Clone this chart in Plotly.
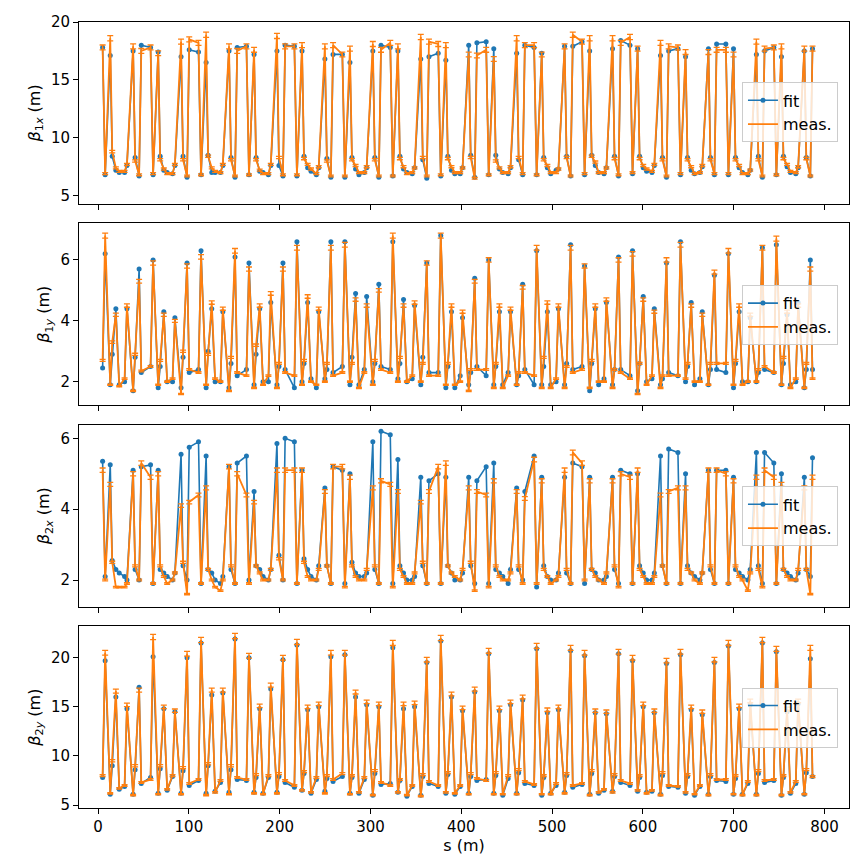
import plotly.graph_objects as go
from plotly.subplots import make_subplots

# monitor positions along the ring (m)
s = [
    5.0, 7.8, 13.4, 15.6, 19.6, 23.3, 29.2, 31.8,
    38.6, 40.8, 45.2, 47.6, 57.8, 60.6, 66.2, 68.4, 72.4, 76.1, 82.0, 84.6,
    91.4, 93.6, 98.0, 100.4, 110.6, 113.4, 119.0, 121.2, 125.2, 128.9, 134.8, 137.4,
    144.2, 146.4, 150.8, 153.2, 163.4, 166.2, 171.8, 174.0, 178.0, 181.7, 187.6, 190.2,
    197.0, 199.2, 203.6, 206.0, 216.2, 219.0, 224.6, 226.8, 230.8, 234.5, 240.4, 243.0,
    249.8, 252.0, 256.4, 258.8, 269.0, 271.8, 277.4, 279.6, 283.6, 287.3, 293.2, 295.8,
    302.6, 304.8, 309.2, 311.6, 321.8, 324.6, 330.2, 332.4, 336.4, 340.1, 346.0, 348.6,
    355.4, 357.6, 362.0, 364.4, 374.6, 377.4, 383.0, 385.2, 389.2, 392.9, 398.8, 401.4,
    408.2, 410.4, 414.8, 417.2, 427.4, 430.2, 435.8, 438.0, 442.0, 445.7, 451.6, 454.2,
    461.0, 463.2, 467.6, 470.0, 480.2, 483.0, 488.6, 490.8, 494.8, 498.5, 504.4, 507.0,
    513.8, 516.0, 520.4, 522.8, 533.0, 535.8, 541.4, 543.6, 547.6, 551.3, 557.2, 559.8,
    566.6, 568.8, 573.2, 575.6, 585.8, 588.6, 594.2, 596.4, 600.4, 604.1, 610.0, 612.6,
    619.4, 621.6, 626.0, 628.4, 638.6, 641.4, 647.0, 649.2, 653.2, 656.9, 662.8, 665.4,
    672.2, 674.4, 678.8, 681.2, 691.4, 694.2, 699.8, 702.0, 706.0, 709.7, 715.6, 718.2,
    725.0, 727.2, 731.6, 734.0, 744.2, 747.0, 752.6, 754.8, 758.8, 762.5, 768.4, 771.0,
    777.8, 780.0, 784.4, 786.8,
]

# ---- beta_1x ----
b1x_meas = [
    17.8, 6.9, 18.6, 8.8, 7.4, 7.1, 7.1, 7.7,
    17.9, 8.0, 6.8, 17.5, 17.8, 6.9, 17.3, 8.1, 7.3, 6.9, 6.9, 7.7,
    18.3, 8.1, 6.7, 18.5, 18.2, 6.8, 18.9, 8.4, 7.4, 7.1, 7.0, 7.7,
    17.9, 8.1, 6.7, 17.5, 17.9, 6.8, 17.6, 8.1, 7.2, 6.9, 6.9, 7.7,
    18.8, 8.3, 6.8, 17.9, 17.9, 6.8, 18.0, 8.2, 7.7, 7.3, 6.9, 7.5,
    17.9, 8.0, 6.7, 18.0, 17.2, 6.7, 17.7, 8.1, 7.6, 7.0, 7.0, 7.5,
    18.1, 8.1, 6.7, 17.6, 18.2, 6.7, 17.9, 8.2, 7.5, 6.9, 7.0, 7.4,
    18.7, 8.3, 6.7, 18.3, 18.1, 6.8, 18.0, 8.2, 7.5, 7.0, 7.0, 7.4,
    17.2, 8.3, 6.5, 17.1, 17.6, 6.8, 16.8, 8.0, 7.4, 7.0, 7.0, 7.5,
    18.6, 8.3, 6.9, 18.0, 18.0, 6.8, 17.2, 8.1, 7.6, 7.0, 7.0, 7.3,
    17.9, 8.3, 6.7, 18.9, 18.3, 6.9, 18.6, 8.4, 7.9, 7.0, 7.0, 7.4,
    18.6, 8.2, 6.8, 18.2, 18.7, 7.0, 17.7, 8.2, 7.6, 7.3, 7.1, 7.7,
    18.2, 8.1, 6.7, 17.9, 17.8, 6.9, 17.4, 8.1, 7.5, 6.9, 7.0, 7.6,
    17.4, 8.1, 6.9, 17.6, 17.6, 6.9, 17.2, 8.1, 7.6, 6.9, 6.9, 7.2,
    18.3, 8.1, 6.7, 17.7, 17.8, 6.8, 17.9, 8.2, 7.7, 7.1, 7.0, 7.5,
    17.7, 8.2, 6.7, 17.7,
]
b1x_fit = [
    17.8, 6.8, 17.1, 8.4, 7.2, 7.0, 7.0, 7.6,
    17.5, 8.3, 6.7, 18.0, 17.8, 6.8, 17.4, 8.4, 7.2, 7.0, 6.9, 7.6,
    17.0, 8.4, 6.6, 17.6, 17.4, 6.8, 16.5, 8.5, 7.0, 7.0, 7.0, 7.6,
    17.5, 8.3, 6.6, 17.8, 17.9, 6.8, 17.2, 8.3, 7.1, 7.0, 6.8, 7.6,
    17.5, 7.6, 6.7, 18.0, 17.9, 6.7, 17.5, 8.4, 7.4, 7.1, 6.8, 7.4,
    16.8, 8.2, 6.6, 17.2, 17.2, 6.6, 16.5, 8.3, 7.3, 6.8, 7.0, 7.4,
    17.5, 8.3, 6.6, 18.0, 17.8, 6.7, 17.5, 8.4, 7.3, 7.0, 6.9, 7.4,
    16.8, 8.1, 6.5, 17.0, 17.3, 6.7, 16.7, 8.4, 7.2, 6.9, 6.9, 7.4,
    18.0, 8.5, 6.6, 18.2, 18.3, 6.8, 17.7, 8.5, 7.3, 7.0, 6.9, 7.4,
    17.3, 8.1, 6.8, 18.0, 17.8, 6.8, 17.3, 8.3, 7.4, 6.9, 7.2, 7.3,
    17.9, 8.4, 6.7, 17.9, 18.3, 6.8, 17.5, 8.5, 7.6, 7.0, 6.9, 7.4,
    17.7, 8.4, 6.7, 18.4, 18.0, 6.9, 17.7, 8.4, 7.4, 7.1, 7.0, 7.6,
    17.1, 8.3, 6.6, 17.5, 17.7, 6.8, 17.0, 8.3, 7.2, 6.9, 7.0, 7.5,
    17.7, 8.3, 6.8, 18.1, 18.1, 6.8, 17.7, 8.3, 7.4, 7.0, 6.8, 7.2,
    17.2, 8.4, 6.6, 17.5, 17.8, 6.8, 17.0, 8.4, 7.5, 7.0, 6.9, 7.4,
    17.5, 8.3, 6.7, 17.7,
]

# ---- beta_1y ----
b1y_meas = [
    2.7, 6.8, 1.9, 3.3, 4.2, 1.85, 2.1, 4.5,
    1.7, 2.9, 5.3, 2.35, 2.5, 5.9, 1.9, 2.7, 4.2, 2.0, 2.1, 4.0,
    1.6, 3.0, 5.8, 2.4, 2.3, 6.1, 1.9, 2.9, 4.6, 2.1, 2.0, 4.4,
    1.7, 2.8, 6.3, 2.3, 2.2, 5.7, 1.8, 3.2, 4.5, 1.9, 2.2, 4.9,
    1.8, 2.6, 5.7, 2.3, 2.2, 6.4, 1.9, 2.7, 4.8, 2.0, 1.9, 4.4,
    2.0, 2.6, 6.4, 2.2, 2.3, 6.5, 2.0, 2.6, 4.7, 1.8, 2.3, 4.5,
    1.9, 2.7, 5.0, 2.4, 2.3, 6.8, 2.0, 2.8, 4.5, 2.0, 2.2, 4.6,
    2.0, 2.6, 5.9, 2.2, 2.2, 6.8, 1.9, 2.6, 4.5, 1.9, 2.0, 4.3,
    1.7, 2.4, 5.3, 2.4, 2.4, 6.0, 1.8, 2.6, 4.5, 1.8, 2.2, 4.4,
    1.9, 2.3, 5.1, 2.3, 2.2, 6.4, 1.8, 2.8, 4.6, 1.8, 2.1, 4.5,
    1.8, 2.5, 6.4, 2.3, 2.4, 5.8, 1.8, 2.7, 4.5, 2.0, 2.0, 4.7,
    1.8, 2.4, 6.0, 2.3, 2.1, 6.2, 1.6, 2.6, 4.7, 1.9, 2.2, 4.3,
    1.8, 2.2, 6.0, 2.2, 2.2, 6.5, 2.1, 2.6, 4.5, 2.0, 2.0, 4.2,
    1.9, 2.6, 5.6, 2.6, 2.6, 6.3, 1.9, 2.7, 4.5, 1.9, 2.0, 4.2,
    2.0, 2.4, 6.4, 2.5, 2.3, 6.7, 1.9, 2.8, 4.3, 1.8, 2.1, 4.5,
    1.8, 2.6, 5.7, 2.1,
]
b1y_fit = [
    2.45, 6.2, 1.9, 2.9, 4.4, 1.9, 2.0, 4.4,
    1.7, 2.8, 5.7, 2.3, 2.5, 6.0, 1.8, 2.5, 4.3, 2.0, 2.0, 4.1,
    1.8, 2.8, 5.9, 2.3, 2.4, 6.3, 1.8, 3.0, 4.4, 2.0, 2.0, 4.3,
    1.8, 2.6, 6.1, 2.2, 2.4, 5.9, 1.9, 2.9, 4.4, 2.0, 2.0, 4.6,
    1.9, 2.5, 5.9, 2.4, 1.8, 6.6, 2.0, 2.6, 4.6, 2.1, 1.8, 4.3,
    2.1, 2.4, 6.6, 2.3, 2.5, 6.6, 1.9, 2.8, 4.9, 1.9, 2.4, 4.8,
    2.0, 2.6, 5.2, 2.5, 2.4, 6.6, 2.1, 2.6, 4.7, 2.0, 2.1, 4.5,
    1.9, 2.8, 5.9, 2.3, 2.3, 6.8, 1.8, 2.5, 4.3, 1.8, 2.2, 4.1,
    1.9, 2.3, 5.4, 2.5, 2.2, 6.0, 1.9, 2.5, 4.3, 1.9, 2.3, 4.3,
    1.9, 2.2, 5.2, 2.4, 1.9, 6.3, 1.9, 2.5, 4.3, 1.9, 2.0, 4.4,
    1.9, 2.6, 6.5, 2.4, 2.5, 5.8, 1.7, 2.6, 4.4, 1.9, 2.1, 4.6,
    1.9, 2.4, 6.1, 2.4, 2.2, 6.3, 1.7, 2.6, 4.8, 2.0, 2.1, 4.4,
    1.9, 2.1, 5.9, 2.3, 2.2, 6.6, 2.0, 2.5, 4.6, 1.9, 2.1, 4.3,
    1.9, 2.4, 5.5, 2.4, 2.3, 6.2, 1.8, 2.6, 4.3, 2.0, 2.0, 4.1,
    2.0, 2.3, 6.4, 2.4, 2.3, 6.5, 1.9, 2.6, 4.2, 1.9, 2.0, 4.6,
    1.8, 2.4, 6.0, 2.4,
]

# ---- beta_2x ----
b2x_meas = [
    5.1, 2.0, 4.7, 2.5, 1.8, 1.8, 1.8, 1.9,
    5.0, 2.4, 2.0, 5.3, 4.9, 1.9, 5.0, 2.4, 2.1, 1.9, 2.0, 2.2,
    4.1, 2.5, 1.6, 4.2, 4.4, 1.9, 4.6, 2.3, 2.0, 1.8, 1.7, 2.0,
    5.2, 2.4, 1.9, 5.0, 4.4, 1.9, 4.2, 2.4, 2.2, 2.0, 2.0, 2.3,
    5.1, 2.6, 2.0, 5.1, 5.1, 1.9, 5.1, 2.5, 2.1, 2.0, 2.0, 2.3,
    4.5, 2.4, 1.9, 5.2, 5.2, 1.8, 4.9, 2.4, 2.1, 2.0, 2.0, 2.3,
    4.6, 2.4, 1.9, 4.8, 4.7, 1.8, 4.5, 2.3, 2.1, 1.9, 1.9, 2.2,
    4.2, 2.5, 1.9, 4.5, 5.2, 1.9, 5.3, 2.4, 2.2, 2.1, 2.0, 2.3,
    4.6, 2.5, 1.7, 4.5, 4.4, 1.8, 4.8, 2.4, 2.1, 2.0, 2.0, 2.2,
    4.5, 2.4, 1.9, 4.3, 5.4, 1.9, 4.8, 2.3, 2.1, 1.9, 2.0, 2.1,
    5.1, 2.3, 1.9, 5.6, 5.3, 2.0, 4.8, 2.3, 2.1, 2.0, 1.9, 2.2,
    4.8, 2.4, 1.8, 5.0, 4.9, 1.9, 5.1, 2.3, 2.1, 1.9, 1.9, 2.1,
    4.4, 2.4, 1.9, 4.5, 4.6, 1.9, 4.6, 2.3, 2.2, 2.0, 1.9, 2.2,
    5.1, 2.4, 1.9, 5.1, 5.0, 1.9, 4.8, 2.4, 2.1, 2.0, 1.7, 2.2,
    4.9, 2.3, 1.8, 5.1, 4.9, 1.9, 4.7, 2.3, 2.1, 2.0, 2.0, 2.3,
    4.6, 2.3, 1.6, 4.9,
]
b2x_fit = [
    5.35, 2.1, 5.25, 2.55, 2.3, 2.2, 2.1, 2.0,
    5.1, 2.3, 2.0, 5.2, 5.25, 1.9, 5.1, 2.3, 2.2, 2.1, 2.0, 2.2,
    5.55, 2.4, 2.0, 5.75, 5.9, 1.9, 5.5, 2.3, 2.2, 2.0, 1.9, 2.1,
    5.2, 2.3, 1.9, 5.3, 5.5, 2.0, 4.5, 2.4, 2.3, 2.1, 2.0, 2.3,
    5.85, 2.7, 2.0, 6.0, 5.9, 1.9, 5.1, 2.6, 2.3, 2.1, 2.0, 2.4,
    4.6, 2.4, 1.9, 5.2, 5.1, 1.9, 5.0, 2.5, 2.2, 2.1, 2.1, 2.2,
    5.9, 2.3, 1.9, 6.2, 6.1, 1.9, 5.4, 2.4, 2.2, 2.0, 2.0, 2.1,
    4.9, 2.4, 1.9, 4.8, 5.0, 1.9, 4.9, 2.4, 2.2, 2.0, 2.0, 2.2,
    4.9, 2.4, 1.9, 4.8, 5.2, 1.9, 5.3, 2.3, 2.2, 2.1, 1.9, 2.3,
    4.6, 2.3, 2.0, 4.5, 5.5, 1.8, 4.9, 2.4, 2.1, 2.0, 2.0, 2.2,
    4.9, 2.2, 1.9, 5.3, 5.2, 1.9, 4.9, 2.3, 2.2, 2.0, 2.0, 2.1,
    4.9, 2.3, 1.9, 5.1, 5.0, 1.9, 5.0, 2.4, 2.2, 2.0, 2.0, 2.2,
    5.5, 2.4, 1.9, 5.7, 5.6, 1.9, 5.0, 2.4, 2.2, 2.1, 2.0, 2.2,
    5.1, 2.3, 1.9, 5.1, 5.1, 1.9, 4.9, 2.3, 2.2, 2.1, 2.0, 2.3,
    5.6, 2.4, 1.9, 5.6, 5.3, 1.9, 5.0, 2.3, 2.2, 2.1, 2.0, 2.2,
    4.9, 2.3, 2.1, 5.45,
]

# ---- beta_2y ----
b2y_meas = [
    8.0, 20.5, 6.2, 9.5, 16.6, 6.7, 7.0, 15.2,
    6.0, 9.0, 16.7, 7.3, 7.6, 22.1, 6.1, 9.0, 15.0, 6.6, 8.0, 14.6,
    6.1, 8.8, 20.4, 7.2, 7.6, 21.8, 6.0, 9.2, 16.7, 6.3, 7.5, 16.7,
    6.1, 9.0, 22.2, 7.8, 7.6, 20.2, 6.2, 8.1, 15.1, 6.1, 8.0, 17.2,
    6.2, 8.2, 20.0, 7.5, 7.0, 21.6, 6.5, 8.4, 15.0, 6.3, 7.8, 15.3,
    6.2, 8.0, 20.5, 7.6, 8.2, 20.5, 6.1, 8.0, 16.5, 6.3, 7.8, 15.5,
    6.0, 8.5, 15.3, 7.3, 7.0, 21.5, 6.3, 7.6, 15.3, 6.0, 7.0, 15.4,
    5.9, 8.1, 19.8, 7.4, 7.0, 22.0, 6.3, 8.3, 16.3, 6.2, 7.0, 14.9,
    6.1, 8.2, 16.8, 7.7, 7.5, 20.7, 6.1, 8.3, 14.9, 6.1, 8.0, 15.5,
    6.1, 8.6, 16.0, 7.4, 7.1, 21.2, 6.1, 8.0, 14.7, 6.1, 7.2, 15.0,
    6.2, 8.2, 21.0, 7.0, 7.2, 20.5, 6.0, 8.5, 14.6, 6.3, 6.6, 14.5,
    6.3, 8.1, 20.6, 7.5, 7.2, 20.0, 6.5, 8.0, 15.3, 6.2, 6.5, 14.6,
    6.0, 8.3, 19.7, 7.0, 6.9, 20.6, 6.3, 8.1, 15.0, 6.1, 7.0, 14.5,
    6.0, 8.1, 19.8, 7.6, 7.6, 21.5, 6.1, 8.0, 15.1, 6.0, 7.4, 15.6,
    6.0, 8.5, 21.8, 7.5, 7.6, 20.9, 6.0, 8.0, 14.8, 6.3, 7.4, 15.6,
    6.1, 8.6, 21.0, 7.9,
]
b2y_fit = [
    7.8, 19.7, 6.1, 9.0, 16.0, 6.6, 6.9, 14.8,
    6.1, 8.6, 17.0, 7.2, 7.8, 20.1, 6.2, 8.7, 14.8, 6.5, 7.9, 14.5,
    6.2, 8.5, 20.0, 7.0, 7.5, 21.5, 6.2, 9.0, 16.2, 6.4, 7.3, 16.4,
    6.3, 8.6, 21.9, 7.6, 7.5, 20.0, 6.3, 7.8, 14.8, 6.2, 7.8, 16.8,
    6.3, 7.9, 19.8, 7.3, 6.8, 21.3, 6.5, 8.2, 14.7, 6.2, 7.6, 15.0,
    6.4, 7.7, 20.1, 7.4, 7.9, 20.3, 6.2, 7.8, 16.0, 6.2, 7.6, 15.2,
    6.0, 8.2, 15.0, 7.1, 7.2, 21.0, 6.3, 7.5, 14.8, 5.9, 6.9, 15.0,
    6.0, 7.9, 19.5, 7.2, 6.9, 21.7, 6.2, 8.1, 16.0, 6.1, 6.9, 14.6,
    6.2, 7.9, 16.5, 7.5, 7.6, 20.4, 6.2, 8.0, 14.6, 6.0, 7.7, 15.2,
    6.2, 8.3, 15.7, 7.2, 7.0, 20.9, 6.0, 7.8, 14.4, 6.2, 7.0, 14.7,
    6.3, 8.0, 20.7, 6.8, 7.1, 20.2, 6.1, 8.2, 14.4, 6.2, 6.5, 14.3,
    6.4, 7.9, 20.4, 7.3, 7.0, 19.7, 6.4, 7.8, 15.0, 6.3, 6.4, 14.4,
    6.1, 8.0, 19.4, 6.9, 6.8, 20.3, 6.2, 7.9, 14.7, 6.0, 6.9, 14.2,
    6.1, 7.9, 19.5, 7.5, 7.4, 21.2, 6.1, 7.7, 14.8, 6.1, 7.2, 15.2,
    6.1, 8.2, 21.5, 7.3, 7.5, 20.6, 6.0, 7.8, 14.5, 6.2, 7.2, 15.3,
    6.1, 8.3, 19.9, 7.9,
]

panels = [
    (b1x_fit, b1x_meas, '<i>β</i><sub>1<i>x</i></sub> (m)', [4.3, 20.0], [5, 10, 15, 20]),
    (b1y_fit, b1y_meas, '<i>β</i><sub>1<i>y</i></sub> (m)', [1.23, 7.2], [2, 4, 6]),
    (b2x_fit, b2x_meas, '<i>β</i><sub>2<i>x</i></sub> (m)', [1.25, 6.38], [2, 4, 6]),
    (b2y_fit, b2y_meas, '<i>β</i><sub>2<i>y</i></sub> (m)', [4.7, 23.2], [5, 10, 15, 20]),
]

BLUE = '#1f77b4'
ORANGE = '#ff7f0e'
FONT = 'DejaVu Sans'

fig = make_subplots(rows=4, cols=1, shared_xaxes=True, vertical_spacing=0.025)

centers = [0.885, 0.627, 0.371, 0.115]
for i, (fit, meas, title, yr, yt) in enumerate(panels):
    row = i + 1
    leg = 'legend' if i == 0 else f'legend{row}'
    fig.add_trace(go.Scatter(
        x=s, y=fit, name='fit', mode='lines+markers',
        line=dict(color=BLUE, width=1.6),
        marker=dict(color=BLUE, size=5),
        legend=leg,
    ), row=row, col=1)
    fig.add_trace(go.Scatter(
        x=s, y=meas, name='meas.', mode='lines',
        line=dict(color=ORANGE, width=1.8),
        error_y=dict(type='percent', value=1.2, color=ORANGE, thickness=1.3, width=3),
        legend=leg,
    ), row=row, col=1)
    fig.update_yaxes(
        title=dict(text=title, font=dict(size=16, color='black'), standoff=6),
        range=yr, tickvals=yt, row=row, col=1,
    )
    fig.update_layout({leg: dict(
        x=0.861, xanchor='left', y=centers[i], yanchor='middle',
        bgcolor='rgba(255,255,255,0.8)', bordercolor='#cccccc', borderwidth=1,
        font=dict(family=FONT, size=16, color='black'),
        tracegroupgap=0, itemwidth=30,
    )})

fig.update_xaxes(
    range=[-21, 827], tickvals=[0, 100, 200, 300, 400, 500, 600, 700, 800],
    showline=True, mirror=True, linecolor='black', linewidth=1,
    ticks='outside', ticklen=5, tickcolor='black', showgrid=False, zeroline=False,
    tickfont=dict(size=15, color='black'), automargin=False,
)
fig.update_xaxes(title=dict(text='s (m)', font=dict(size=16, color='black'), standoff=4), row=4, col=1)
fig.update_yaxes(
    showline=True, mirror=True, linecolor='black', linewidth=1,
    ticks='outside', ticklen=5, tickcolor='black', showgrid=False, zeroline=False,
    tickfont=dict(size=15, color='black'), automargin=False,
)
# the page body adds an 8 px margin, so the figure is sized and placed to compensate
fig.update_layout(
    width=848, height=848,
    margin=dict(l=71, r=7, t=14, b=48),
    plot_bgcolor='white', paper_bgcolor='white',
    font=dict(family=FONT, color='black'),
    showlegend=True,
)
fig.write_html('out.html')
